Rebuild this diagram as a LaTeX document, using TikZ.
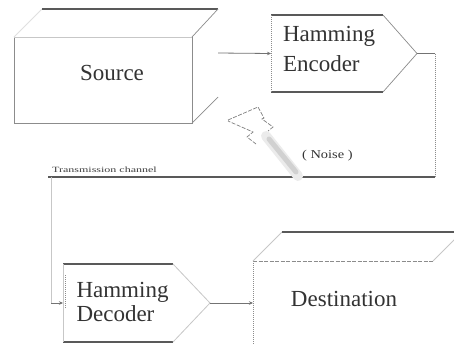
\documentclass[tikz,border=0pt]{standalone}
\usepackage{fontspec}
\setmainfont{Liberation Serif}
\usetikzlibrary{arrows.meta,calc}
\begin{document}
\begin{tikzpicture}[x=1pt,y=-1pt,
  thinline/.style={draw=black!45,line width=0.7pt},
  faintline/.style={draw=black!22,line width=0.8pt},
  darkline/.style={draw=black!65,line width=1.4pt},
  dotline/.style={draw=black!45,line width=0.8pt,dash pattern=on 1pt off 1pt},
  dashline/.style={draw=black!45,line width=0.8pt,dash pattern=on 4pt off 1.5pt},
  face/.style={draw=none,inner sep=0pt,outer sep=0pt},
  lbl/.style={text=black!80,font=\fontsize{23}{30}\selectfont,inner sep=0pt,outer sep=0pt},
  conn/.style={draw=black!55,line width=0.8pt},
  tip/.style={-{Stealth[length=4pt,width=3.5pt]}}
]
\useasboundingbox (0,0) rectangle (454,343);
\fill[white] (0,0) rectangle (454,343);

% ---------- Source (3D box) ----------
\node[face,minimum width=178pt,minimum height=86pt] (src) at (103,80) {};
\draw[thinline] (src.north west) -- (src.south west) -- (src.south east) -- (src.north east);
\draw[faintline] (src.north west) -- (src.north east);
\draw[faintline,draw=black!12] (src.north west) -- ($(src.north west)+(28,-28)$);
\draw[darkline] ($(src.north west)+(28,-28)$) -- ($(src.north east)+(26,-28)$);
\draw[thinline] (src.north east) -- ($(src.north east)+(26,-28)$);
\draw[thinline] (src.south east) -- ($(src.south east)+(26,-26)$);
\node[lbl,anchor=base] (srclbl) at (112,80) {Source};
\coordinate (srcout) at (218,53);

% ---------- Hamming Encoder ----------
\node[face,minimum width=112pt,minimum height=77pt] (enc) at (327,53.5) {};
\coordinate (encapex) at ($(enc.east)+(34,0)$);
\draw[darkline] (enc.north west) -- (enc.north east);
\draw[darkline] (enc.south west) -- (enc.south east);
\draw[dotline] (enc.north west) -- (enc.south west);
\draw[thinline] (enc.north east) -- (encapex) -- (enc.south east);
\node[lbl,anchor=base west,align=left] (enclbl) at (283,71.7) {Hamming\\Encoder};

% ---------- Transmission channel ----------
\coordinate (chanL) at (48,177);
\coordinate (chanR) at (435,177);
\coordinate (encr) at ($(encapex)+(18,0)$);
\draw[darkline] (chanL) -- (chanR);
\draw[conn] (encapex) -- (encr);
\draw[dotline] (encr) -- (encr |- chanR);
\node[anchor=base west,inner sep=0pt,text=black!75,font=\fontsize{8}{9}\selectfont] (chanlbl) at (52,172) {\scalebox{1.5}[1]{Transmission channel}};

% ---------- Noise ----------
\draw[line width=10pt,draw=black!8,line cap=round] (266,136) -- (298,176);
\draw[line width=5pt,draw=black!18,line cap=round] (269,139) -- (296,172);
\draw[dashline,draw=black!50,line width=0.7pt] (228,120) -- (258,107) -- (264,118) -- (262,119) -- (273,127) -- (268,131)
  (256,144) -- (247,137) -- (253,132) -- (228,121);
\node[anchor=base west,inner sep=0pt,text=black!80,font=\fontsize{12}{14}\selectfont] (noise) at (302,158) {\scalebox{1.2}[1]{( Noise )}};

% ---------- Hamming Decoder ----------
\node[face,minimum width=110pt,minimum height=78pt] (dec) at (118,303) {};
\coordinate (decapex) at ($(dec.east)+(37,0)$);
\draw[darkline] (dec.north west) -- (dec.north east);
\draw[darkline] (dec.south west) -- (dec.south east);
\draw[faintline] (dec.north west) -- (dec.south west);
\draw[dotline] ($(dec.west)+(2,-28)$) -- ($(dec.west)+(2,5)$);
\draw[faintline] (dec.north east) -- (decapex) -- (dec.south east);
\node[lbl,anchor=base west,align=left,font=\fontsize{23}{24.5}\selectfont] (declbl) at (76.5,321.7) {Hamming\\Decoder};

% channel to decoder
\coordinate (chandown) at (51,177);
\draw[faintline] (chandown) -- (chandown |- dec.west);
\draw[conn,tip] (chandown |- dec.west) -- (dec.west);

% ---------- Destination (3D box) ----------
\node[face,minimum width=180pt,minimum height=100pt] (dst) at (343,311) {};
\draw[dotline] (dst.north west) -- (dst.south west);
\draw[dashline] (dst.north west) -- (dst.north east);
\draw[faintline] (dst.north west) -- ($(dst.north west)+(29,-29)$);
\draw[darkline] ($(dst.north west)+(29,-29)$) -- ($(dst.north east)+(29,-29)$);
\draw[faintline] (dst.north east) -- ($(dst.north east)+(29,-29)$);
\node[lbl,anchor=base] (dstlbl) at (344,306.7) {Destination};

% ---------- Connectors ----------
\draw[conn,tip] (srcout) -- (enc.west);
\draw[conn,tip] (decapex) -- (decapex -| dst.west);
\end{tikzpicture}
\end{document}
